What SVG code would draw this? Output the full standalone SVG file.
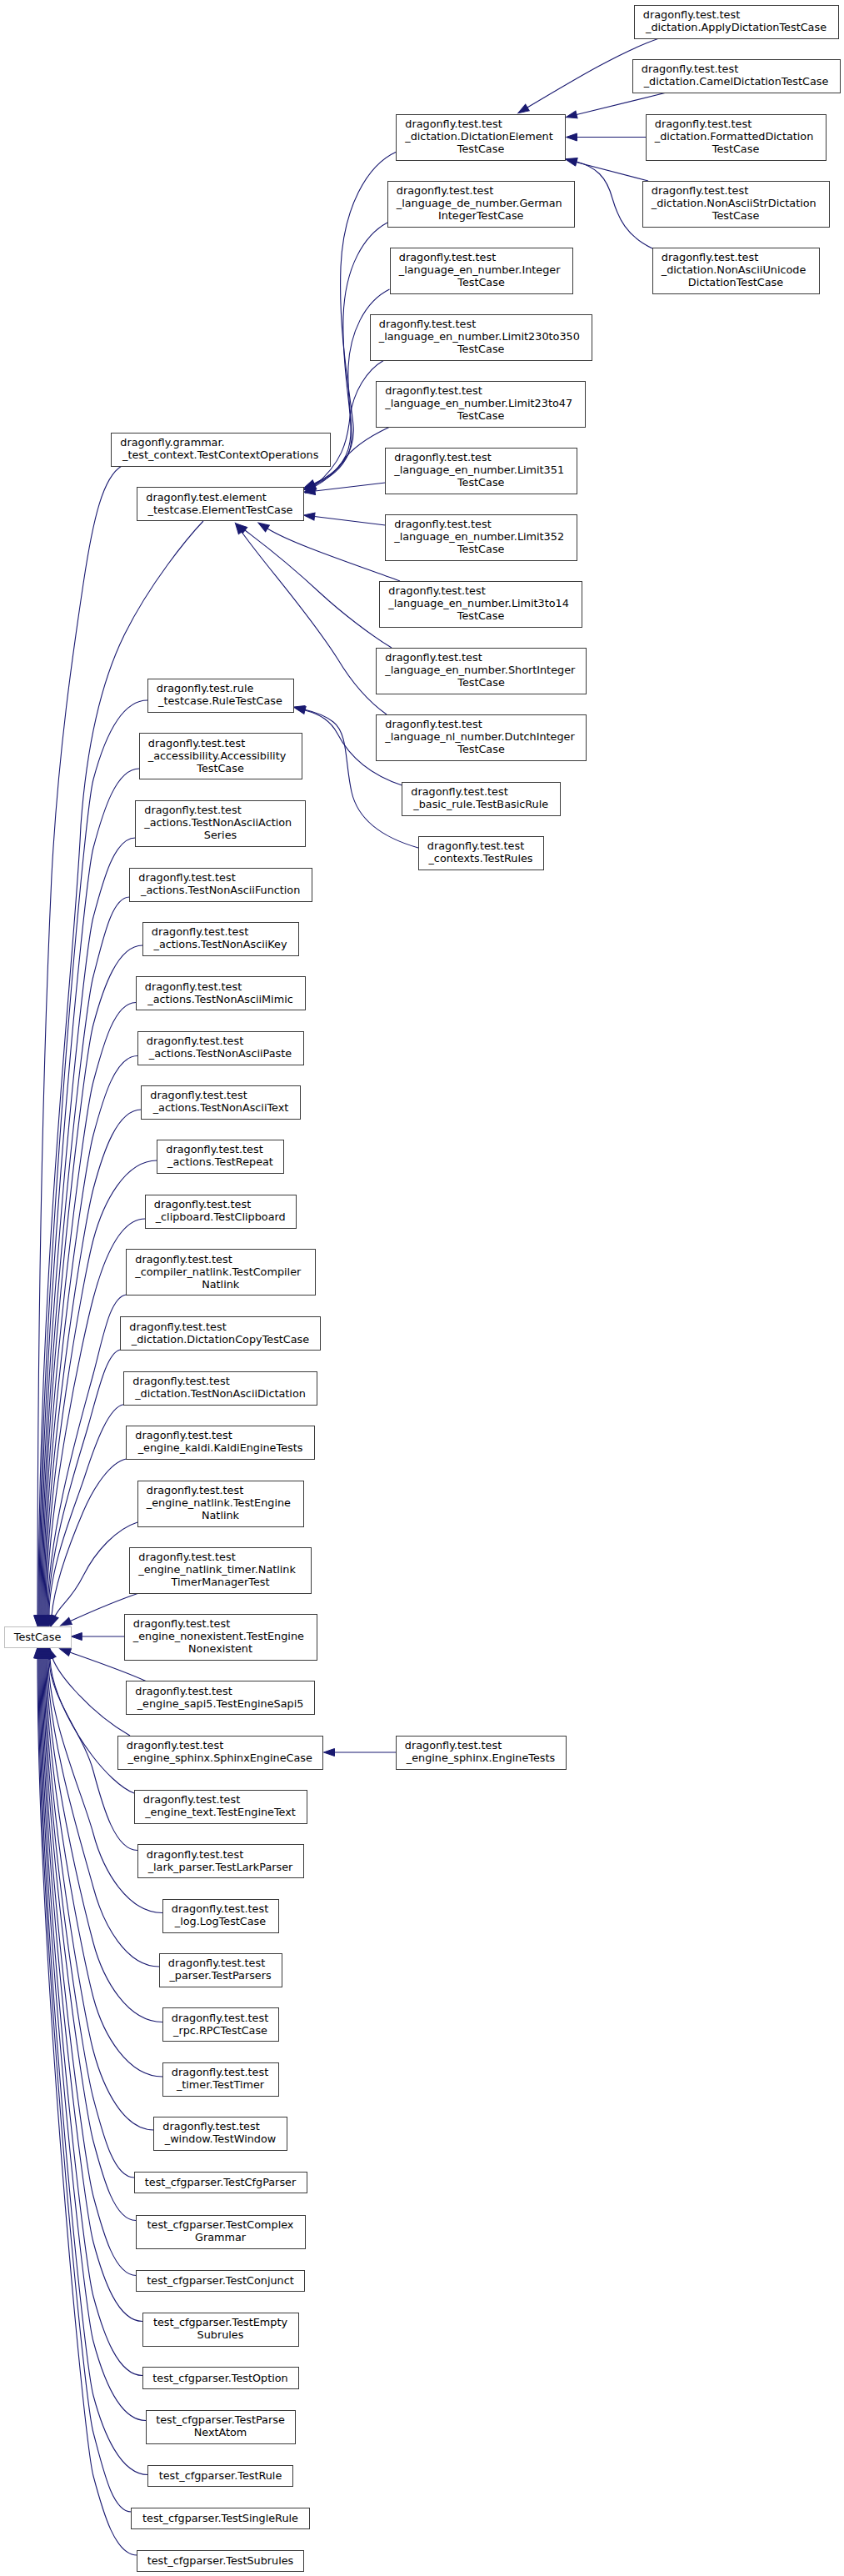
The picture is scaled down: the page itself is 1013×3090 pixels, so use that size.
<svg xmlns="http://www.w3.org/2000/svg" width="1013" height="3090" viewBox="0 0 1013 3090">
<style>
text{font-family:"DejaVu Sans","Liberation Sans",sans-serif;font-size:12.8px;fill:#000}
.m{text-anchor:middle}
.node rect{fill:#fff;stroke:#3a3a3a;stroke-width:1;shape-rendering:crispEdges}
.ext rect{fill:#fff;stroke:#bfbfbf;stroke-width:1;shape-rendering:crispEdges}
.e path{fill:none;stroke:#191970;stroke-width:1.1;marker-end:url(#arr)}
</style>
<defs>
<marker id="arr" markerUnits="userSpaceOnUse" viewBox="0 0 13 10" markerWidth="13" markerHeight="10" refX="0" refY="5" orient="auto" overflow="visible">
<path d="M0,0.5 L13,5 L0,9.5 z" fill="#191970" stroke="#191970" stroke-width="1"/>
</marker>
</defs>
<rect width="1013" height="3090" fill="#fff"/>
<g id="edges" class="e">
<!-- into DictationElementTestCase -->
<path d="M791,46 C745,62 690,95 633,129"/>
<path d="M798,111.5 L692,137.5"/>
<path d="M775,164.5 L692.5,164.5"/>
<path d="M778,217 L691.5,194.5"/>
<path d="M783,298 C752,283 742,262 735,238 C728,212 715,200 692,194"/>
<!-- into ElementTestCase -->
<path d="M476,182 C440,198 412,250 409,320 C406,400 420,470 424,510 C427,545 405,568 377,580"/>
<path d="M465,267 C437,282 414,320 412,380 C410,450 425,500 420,530 C416,555 400,570 377,581"/>
<path d="M467.5,347 C437,362 420,400 418,440 C416,490 428,520 418,545 C410,562 398,572 377,582"/>
<path d="M461,432 C440,444 424,470 420,500 C417,530 410,556 377,583"/>
<path d="M468,512 C440,525 420,540 410,555 C400,568 392,576 377,584"/>
<path d="M462.5,579 L378,589"/>
<path d="M462.5,630 L377.5,619.5"/>
<path d="M480,697 C420,675 350,652 321,634"/>
<path d="M470,777 C445,762 410,735 385,712 C340,670 315,652 294,636"/>
<path d="M464,857 C440,840 420,815 405,790 C370,735 320,680 290,638"/>
<!-- into RuleTestCase -->
<path d="M482.5,942 C440,928 418,905 405,880 C397,865 385,857 366,852"/>
<path d="M502,1017 C460,1005 430,985 422,950 C414,915 418,880 400,866 C390,858 378,854 365,851"/>
<!-- into SphinxEngineCase -->
<path d="M475,2102 L401.5,2102"/>
<!-- into TestCase from above -->
<path d="M146,559 C124,572 112,620 100,700 C88,780 70,900 62,1050 C55,1200 45,1500 45,1937.7"/>
<path d="M244,625 C225,645 180,700 150,760 C125,810 105,880 97,990 C90,1150 47,1500 46,1937.7"/>
<path d="M177,840 C144.5,840 124,890 112,935 S47,1586.8 47,1937.7"/>
<path d="M167,922 C139.5,922 124,972 112,1017 S48,1615.5 48,1937.7"/>
<path d="M162.5,1005 C137.3,1005 124,1055 112,1100 S49,1644.5 49,1937.7"/>
<path d="M155.5,1076 C133.8,1076 124,1126 112,1171 S50,1669.4 50,1937.7"/>
<path d="M171,1134 C141.5,1134 124,1184 112,1229 S51,1689.7 51,1937.7"/>
<path d="M163,1202.5 C137.5,1202.5 124,1252.5 112,1297.5 S52,1713.6 52,1937.7"/>
<path d="M165,1266.5 C138.5,1266.5 124,1316.5 112,1361.5 S53,1736 53,1937.7"/>
<path d="M169.5,1331 C140.8,1331 124,1381 112,1426 S54,1758.6 54,1937.7"/>
<path d="M188.5,1392 C150.3,1392 124,1442 112,1487 S55,1780 55,1937.7"/>
<path d="M174,1462 C143,1462 124,1512 112,1557 S56,1804.5 56,1937.7"/>
<path d="M151.5,1553 C131.8,1556 124,1603 112,1648 S57,1836.3 57,1937.7"/>
<path d="M144.5,1619 C128,1622 118,1668 106,1710 S58,1857.9 58,1937.7"/>
<path d="M148.5,1684.7 C131,1687 115,1730 102,1770 S59,1879 59,1937.7"/>
<path d="M151.5,1750 C132,1754 112,1785 100,1813 S66,1895 62,1937.7"/>
<path d="M165,1826 C140,1834 115,1860 100,1890 S72,1925 66,1939"/>
<path d="M168,1910.5 C140,1920 112,1932 84.5,1944.5"/>
<path d="M149,1963 L98.3,1963"/>
<!-- into TestCase from below -->
<path d="M175,2016.5 C150,2005 115,1993 84,1982"/>
<path d="M156,2082 C135,2070 110,2050 90,2028 C78,2015 68,2002 63,1989"/>
<path d="M161,2151 C145,2145 125,2125 110,2105 S62,2035 60,1989"/>
<path d="M165,2219.5 C138.5,2219.5 124,2169.5 112,2124.5 S59,2036.4 59,1989"/>
<path d="M195,2294.5 C153.5,2294.5 124,2244.5 112,2199.5 S58,2062.7 58,1989"/>
<path d="M191,2359 C151.5,2359 124,2309 112,2264 S57,2085.3 57,1989"/>
<path d="M195,2425.5 C153.5,2425.5 124,2375.5 112,2330.5 S56,2108.5 56,1989"/>
<path d="M195,2491 C153.5,2491 124,2441 112,2396 S55,2131.5 55,1989"/>
<path d="M184.5,2555 C148.3,2555 124,2505 112,2460 S54,2153.9 54,1989"/>
<path d="M161,2612 C136.5,2612 124,2562 112,2517 S53,2173.8 53,1989"/>
<path d="M163,2663.5 C137.5,2663.5 124,2613.5 112,2568.5 S52,2191.8 52,1989"/>
<path d="M163.5,2729.5 C137.8,2729.5 124,2679.5 112,2634.5 S51,2214.9 51,1989"/>
<path d="M171,2784.5 C141.5,2784.5 124,2734.5 112,2689.5 S50,2234.2 50,1989"/>
<path d="M171,2849.5 C141.5,2849.5 124,2799.5 112,2754.5 S49,2256.9 49,1989"/>
<path d="M175,2903.5 C143.5,2903.5 124,2853.5 112,2808.5 S48,2275.8 48,1989"/>
<path d="M177.5,2968.5 C144.8,2968.5 124,2918.5 112,2873.5 S47,2298.6 47,1989"/>
<path d="M157.5,3013 C134.8,3013 124,2963 112,2918 S46,2314.2 46,1989"/>
<path d="M164.5,3065 C138.3,3065 124,3015 112,2970 S45,2332.4 45,1989"/>
</g>

<g id="n_apply" class="node"><rect x="761" y="6" width="245" height="40"/><text x="771.8" y="22">dragonfly.test.test</text><text class="m" x="883.5" y="37">_dictation.ApplyDictationTestCase</text></g>
<g id="n_camel" class="node"><rect x="759" y="71" width="249" height="40"/><text x="769.8" y="87">dragonfly.test.test</text><text class="m" x="883.5" y="102">_dictation.CamelDictationTestCase</text></g>
<g id="n_formatted" class="node"><rect x="775" y="137" width="216" height="55"/><text x="785.8" y="153">dragonfly.test.test</text><text x="785.8" y="168">_dictation.FormattedDictation</text><text class="m" x="883" y="183">TestCase</text></g>
<g id="n_nonasciistr" class="node"><rect x="771" y="217" width="224" height="55"/><text x="781.8" y="233">dragonfly.test.test</text><text x="781.8" y="248">_dictation.NonAsciiStrDictation</text><text class="m" x="883" y="263">TestCase</text></g>
<g id="n_nonasciiunicode" class="node"><rect x="783" y="297" width="200" height="55"/><text x="793.8" y="313">dragonfly.test.test</text><text x="793.8" y="328">_dictation.NonAsciiUnicode</text><text class="m" x="883" y="343">DictationTestCase</text></g>

<g id="n_dictelement" class="node"><rect x="475.5" y="137" width="203" height="55"/><text x="486.3" y="153">dragonfly.test.test</text><text x="486.3" y="168">_dictation.DictationElement</text><text class="m" x="577" y="183">TestCase</text></g>
<g id="n_german" class="node"><rect x="465" y="217" width="224.5" height="55"/><text x="475.8" y="233">dragonfly.test.test</text><text x="475.8" y="248">_language_de_number.German</text><text class="m" x="577.2" y="263">IntegerTestCase</text></g>
<g id="n_integer" class="node"><rect x="468" y="297" width="219" height="55"/><text x="478.8" y="313">dragonfly.test.test</text><text x="478.8" y="328">_language_en_number.Integer</text><text class="m" x="577.5" y="343">TestCase</text></g>
<g id="n_limit230" class="node"><rect x="444" y="377" width="266.5" height="55"/><text x="454.8" y="393">dragonfly.test.test</text><text x="454.8" y="408">_language_en_number.Limit230to350</text><text class="m" x="577.2" y="423">TestCase</text></g>
<g id="n_limit23" class="node"><rect x="451.5" y="457" width="251" height="55"/><text x="462.3" y="473">dragonfly.test.test</text><text x="462.3" y="488">_language_en_number.Limit23to47</text><text class="m" x="577" y="503">TestCase</text></g>
<g id="n_limit351" class="node"><rect x="462.5" y="537" width="229.5" height="55"/><text x="473.3" y="553">dragonfly.test.test</text><text x="473.3" y="568">_language_en_number.Limit351</text><text class="m" x="577.2" y="583">TestCase</text></g>
<g id="n_limit352" class="node"><rect x="462.5" y="617" width="229.5" height="55"/><text x="473.3" y="633">dragonfly.test.test</text><text x="473.3" y="648">_language_en_number.Limit352</text><text class="m" x="577.2" y="663">TestCase</text></g>
<g id="n_limit3to14" class="node"><rect x="455.5" y="697" width="243" height="55"/><text x="466.3" y="713">dragonfly.test.test</text><text x="466.3" y="728">_language_en_number.Limit3to14</text><text class="m" x="577" y="743">TestCase</text></g>
<g id="n_shortint" class="node"><rect x="451.5" y="777" width="252" height="55"/><text x="462.3" y="793">dragonfly.test.test</text><text x="462.3" y="808">_language_en_number.ShortInteger</text><text class="m" x="577.5" y="823">TestCase</text></g>
<g id="n_dutchint" class="node"><rect x="451.5" y="857" width="252" height="55"/><text x="462.3" y="873">dragonfly.test.test</text><text x="462.3" y="888">_language_nl_number.DutchInteger</text><text class="m" x="577.5" y="903">TestCase</text></g>
<g id="n_basicrule" class="node"><rect x="482.5" y="938" width="189.5" height="40"/><text x="493.3" y="954">dragonfly.test.test</text><text class="m" x="577.2" y="969">_basic_rule.TestBasicRule</text></g>
<g id="n_contextrules" class="node"><rect x="502" y="1003" width="150" height="40"/><text x="512.8" y="1019">dragonfly.test.test</text><text class="m" x="577" y="1034">_contexts.TestRules</text></g>
<g id="n_enginetests" class="node"><rect x="475" y="2082" width="204" height="40"/><text x="485.8" y="2098">dragonfly.test.test</text><text class="m" x="577" y="2113">_engine_sphinx.EngineTests</text></g>

<g id="n_contextops" class="node"><rect x="133.5" y="519" width="262.5" height="40"/><text x="144.3" y="535">dragonfly.grammar.</text><text class="m" x="264.7" y="550">_test_context.TestContextOperations</text></g>
<g id="n_element" class="node"><rect x="164.5" y="584.5" width="200" height="40"/><text x="175.3" y="600.5">dragonfly.test.element</text><text class="m" x="264.5" y="615.5">_testcase.ElementTestCase</text></g>
<g id="n_rule" class="node"><rect x="177" y="814" width="175" height="40"/><text x="187.8" y="830">dragonfly.test.rule</text><text class="m" x="264.5" y="845">_testcase.RuleTestCase</text></g>
<g id="n_access" class="node"><rect x="167" y="879.5" width="195" height="55"/><text x="177.8" y="895.5">dragonfly.test.test</text><text x="177.8" y="910.5">_accessibility.Accessibility</text><text class="m" x="264.5" y="925.5">TestCase</text></g>
<g id="n_actionseries" class="node"><rect x="162.5" y="960" width="204" height="55"/><text x="173.3" y="976">dragonfly.test.test</text><text x="173.3" y="991">_actions.TestNonAsciiAction</text><text class="m" x="264.5" y="1006">Series</text></g>
<g id="n_function" class="node"><rect x="155.5" y="1041" width="218.5" height="40"/><text x="166.3" y="1057">dragonfly.test.test</text><text class="m" x="264.7" y="1072">_actions.TestNonAsciiFunction</text></g>
<g id="n_key" class="node"><rect x="171" y="1106" width="187" height="40"/><text x="181.8" y="1122">dragonfly.test.test</text><text class="m" x="264.5" y="1137">_actions.TestNonAsciiKey</text></g>
<g id="n_mimic" class="node"><rect x="163" y="1171.5" width="203" height="40"/><text x="173.8" y="1187.5">dragonfly.test.test</text><text class="m" x="264.5" y="1202.5">_actions.TestNonAsciiMimic</text></g>
<g id="n_paste" class="node"><rect x="165" y="1237" width="199" height="40"/><text x="175.8" y="1253">dragonfly.test.test</text><text class="m" x="264.5" y="1268">_actions.TestNonAsciiPaste</text></g>
<g id="n_text" class="node"><rect x="169.5" y="1302" width="191" height="40"/><text x="180.3" y="1318">dragonfly.test.test</text><text class="m" x="265" y="1333">_actions.TestNonAsciiText</text></g>
<g id="n_repeat" class="node"><rect x="188.5" y="1367" width="152" height="40"/><text x="199.3" y="1383">dragonfly.test.test</text><text class="m" x="264.5" y="1398">_actions.TestRepeat</text></g>
<g id="n_clipboard" class="node"><rect x="174" y="1433" width="181.5" height="40"/><text x="184.8" y="1449">dragonfly.test.test</text><text class="m" x="264.7" y="1464">_clipboard.TestClipboard</text></g>
<g id="n_compilernatlink" class="node"><rect x="151.5" y="1498.5" width="226.5" height="55"/><text x="162.3" y="1514.5">dragonfly.test.test</text><text x="162.3" y="1529.5">_compiler_natlink.TestCompiler</text><text class="m" x="264.7" y="1544.5">Natlink</text></g>
<g id="n_dictcopy" class="node"><rect x="144.5" y="1579.5" width="240" height="40"/><text x="155.3" y="1595.5">dragonfly.test.test</text><text class="m" x="264.5" y="1610.5">_dictation.DictationCopyTestCase</text></g>
<g id="n_nonasciidict" class="node"><rect x="148.5" y="1645" width="232" height="40"/><text x="159.3" y="1661">dragonfly.test.test</text><text class="m" x="264.5" y="1676">_dictation.TestNonAsciiDictation</text></g>
<g id="n_kaldi" class="node"><rect x="151.5" y="1710" width="226" height="40"/><text x="162.3" y="1726">dragonfly.test.test</text><text class="m" x="264.5" y="1741">_engine_kaldi.KaldiEngineTests</text></g>
<g id="n_enginenatlink" class="node"><rect x="165" y="1776" width="199" height="55"/><text x="175.8" y="1792">dragonfly.test.test</text><text x="175.8" y="1807">_engine_natlink.TestEngine</text><text class="m" x="264.5" y="1822">Natlink</text></g>
<g id="n_natlinktimer" class="node"><rect x="155.5" y="1856" width="218" height="55"/><text x="166.3" y="1872">dragonfly.test.test</text><text x="166.3" y="1887">_engine_natlink_timer.Natlink</text><text class="m" x="264.5" y="1902">TimerManagerTest</text></g>
<g id="n_nonexistent" class="node"><rect x="149" y="1936" width="231" height="55"/><text x="159.8" y="1952">dragonfly.test.test</text><text x="159.8" y="1967">_engine_nonexistent.TestEngine</text><text class="m" x="264.5" y="1982">Nonexistent</text></g>
<g id="n_sapi5" class="node"><rect x="151.5" y="2016.5" width="226" height="40"/><text x="162.3" y="2032.5">dragonfly.test.test</text><text class="m" x="264.5" y="2047.5">_engine_sapi5.TestEngineSapi5</text></g>
<g id="n_sphinx" class="node"><rect x="141" y="2082" width="246.5" height="40"/><text x="151.8" y="2098">dragonfly.test.test</text><text class="m" x="264.2" y="2113">_engine_sphinx.SphinxEngineCase</text></g>
<g id="n_enginetext" class="node"><rect x="161" y="2147" width="207" height="40"/><text x="171.8" y="2163">dragonfly.test.test</text><text class="m" x="264.5" y="2178">_engine_text.TestEngineText</text></g>
<g id="n_lark" class="node"><rect x="165" y="2212.5" width="199" height="40"/><text x="175.8" y="2228.5">dragonfly.test.test</text><text class="m" x="264.5" y="2243.5">_lark_parser.TestLarkParser</text></g>
<g id="n_log" class="node"><rect x="195" y="2278" width="139" height="40"/><text x="205.8" y="2294">dragonfly.test.test</text><text class="m" x="264.5" y="2309">_log.LogTestCase</text></g>
<g id="n_parsers" class="node"><rect x="191" y="2343" width="147" height="40"/><text x="201.8" y="2359">dragonfly.test.test</text><text class="m" x="264.5" y="2374">_parser.TestParsers</text></g>
<g id="n_rpc" class="node"><rect x="195" y="2408.5" width="139" height="40"/><text x="205.8" y="2424.5">dragonfly.test.test</text><text class="m" x="264.5" y="2439.5">_rpc.RPCTestCase</text></g>
<g id="n_timer" class="node"><rect x="195" y="2474" width="139" height="40"/><text x="205.8" y="2490">dragonfly.test.test</text><text class="m" x="264.5" y="2505">_timer.TestTimer</text></g>
<g id="n_window" class="node"><rect x="184.5" y="2539" width="160" height="40"/><text x="195.3" y="2555">dragonfly.test.test</text><text class="m" x="264.5" y="2570">_window.TestWindow</text></g>
<g id="n_cfgparser" class="node"><rect x="161" y="2605" width="207" height="25.5"/><text class="m" x="264.5" y="2622">test_cfgparser.TestCfgParser</text></g>
<g id="n_complexgrammar" class="node"><rect x="163" y="2657" width="203" height="40"/><text class="m" x="264.5" y="2673">test_cfgparser.TestComplex</text><text class="m" x="264.5" y="2688">Grammar</text></g>
<g id="n_conjunct" class="node"><rect x="163.5" y="2723" width="202" height="25"/><text class="m" x="264.5" y="2740">test_cfgparser.TestConjunct</text></g>
<g id="n_emptysubrules" class="node"><rect x="171" y="2774" width="187" height="40"/><text class="m" x="264.5" y="2790">test_cfgparser.TestEmpty</text><text class="m" x="264.5" y="2805">Subrules</text></g>
<g id="n_option" class="node"><rect x="171" y="2839.5" width="187" height="25.5"/><text class="m" x="264.5" y="2856.5">test_cfgparser.TestOption</text></g>
<g id="n_parsenextatom" class="node"><rect x="175" y="2891" width="179" height="40"/><text class="m" x="264.5" y="2907">test_cfgparser.TestParse</text><text class="m" x="264.5" y="2922">NextAtom</text></g>
<g id="n_cfgrule" class="node"><rect x="177.5" y="2957" width="174" height="25.5"/><text class="m" x="264.5" y="2974">test_cfgparser.TestRule</text></g>
<g id="n_singlerule" class="node"><rect x="157.5" y="3008" width="214" height="25"/><text class="m" x="264.5" y="3025">test_cfgparser.TestSingleRule</text></g>
<g id="n_subrules" class="node"><rect x="164.5" y="3059" width="200" height="25"/><text class="m" x="264.5" y="3076">test_cfgparser.TestSubrules</text></g>

<g id="n_testcase" class="ext"><rect x="5" y="1951" width="80" height="25"/><text class="m" x="45" y="1968">TestCase</text></g>
</svg>
